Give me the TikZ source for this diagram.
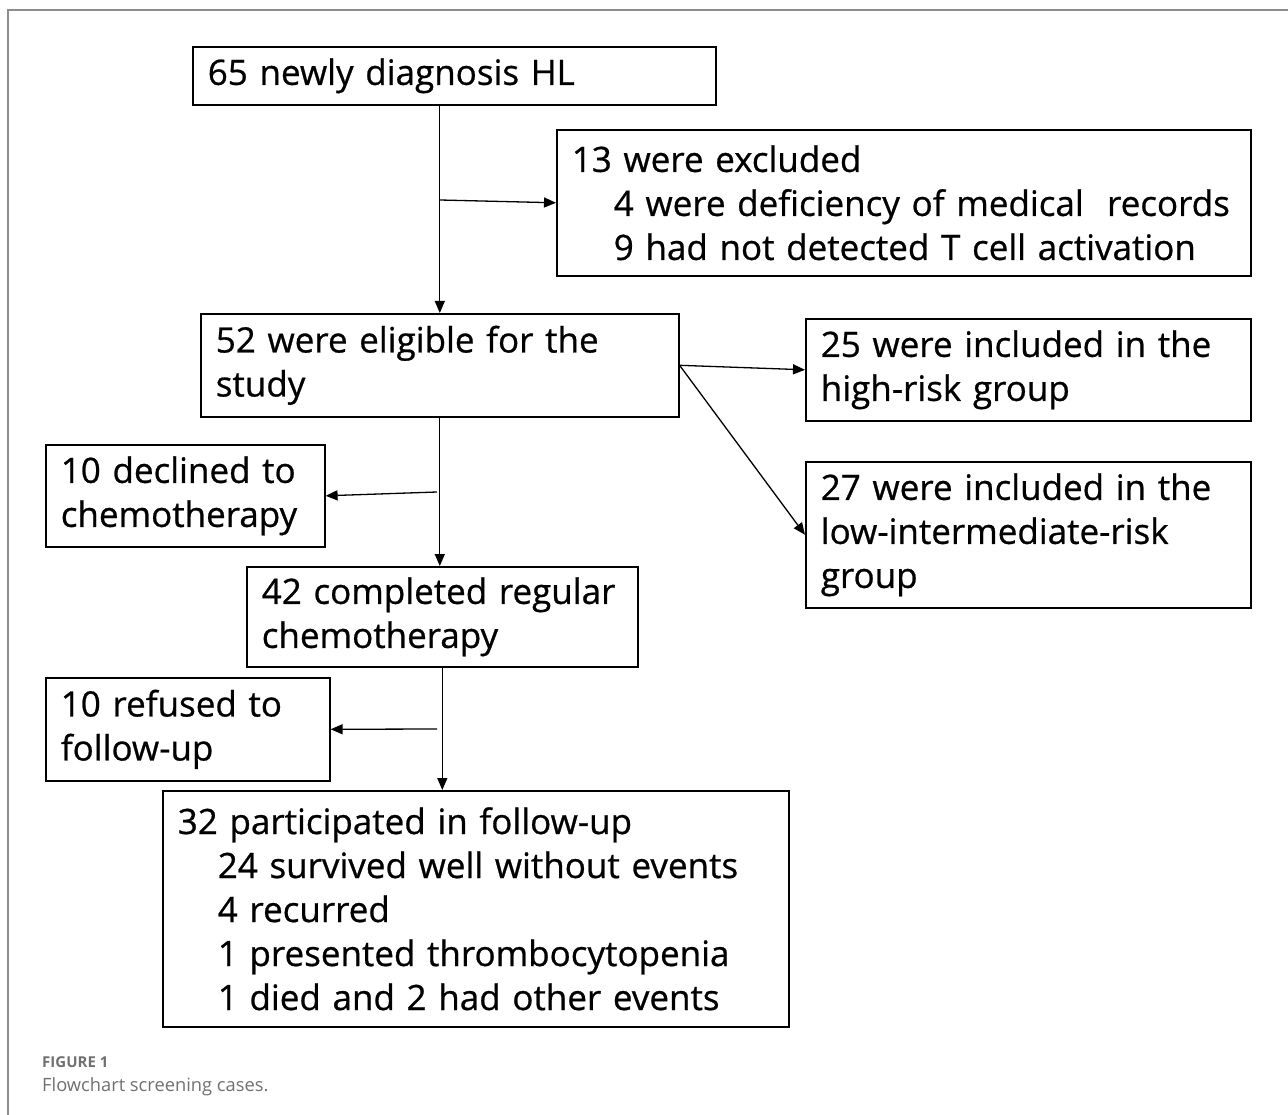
\documentclass[tikz,border=0pt]{standalone}
\usepackage{fontspec}
\setmainfont{Open Sans}
\newfontfamily\flowfont{Open Sans}[FakeBold=0.7]
\usepackage{xcolor}
\usepackage{tikz}
\usetikzlibrary{arrows.meta}
\tikzset{every picture/.append style={font=\flowfont\fontsize{35}{44}\selectfont}}
\definecolor{capgray}{HTML}{707070}
\tikzset{
  flowbox/.style={draw,line width=1.6pt,anchor=north west,align=left,inner xsep=15pt,inner ysep=0pt},
  flowarrow/.style={line width=1.3pt,-{Triangle[length=12pt,width=10pt]}}
}

\begin{document}
\begin{tikzpicture}[x=1pt,y=-1pt]
    \useasboundingbox (0,0) rectangle (1288,1115);
    \draw[capgray!80,line width=1.5pt] (8,1115) -- (8,10) -- (1288,10);
    \node[flowbox,text width=493pt,minimum height=58pt] (diag) at (192,46) {65 newly diagnosis HL};
    \node[flowbox,text width=664pt,minimum height=146pt] (excl) at (556,129) {13 were excluded\\
      \hspace*{42pt}4 were deficiency of medical~ records\\
      \hspace*{42pt}9 had not detected T cell activation};
    \node[flowbox,text width=448pt,minimum height=103pt] (elig) at (200,313) {52 were eligible for the\\study};
    \node[flowbox,text width=415pt,minimum height=102pt] (high) at (805,318) {25 were included in the\\high-risk group};
    \node[flowbox,text width=415pt,minimum height=146pt] (low) at (805,461) {27 were included in the\\low-intermediate-risk\\group};
    \node[flowbox,text width=249pt,minimum height=102pt] (decl) at (45,444) {10 declined to\\chemotherapy};
    \node[flowbox,text width=361pt,minimum height=100pt] (chemo) at (246,566) {42 completed regular\\chemotherapy};
    \node[flowbox,text width=254pt,minimum height=103pt] (refu) at (45,677) {10 refused to\\follow-up};
    \node[flowbox,text width=596pt,minimum height=236pt] (foll) at (162,790) {32 participated in follow-up\\
      \hspace*{40pt}24 survived well without events\\
      \hspace*{40pt}4 recurred\\
      \hspace*{40pt}1 presented thrombocytopenia\\
      \hspace*{40pt}1 died and 2 had other events};
    \coordinate (br1) at (440,200);
    \coordinate (br2) at (437,492);
    \coordinate (br3) at (437,729);
    \draw[flowarrow] (diag.south -| elig.north) -- (elig.north);
    \draw[flowarrow] (br1) -- (excl.west);
    \draw[flowarrow] (elig.east) -- (high.west);
    \draw[flowarrow] (elig.east) -- (low.west);
    \draw[flowarrow] (elig.south) -- (elig.south |- chemo.north);
    \draw[flowarrow] (br2) -- (decl.east);
    \draw[flowarrow] (chemo.south) -- (chemo.south |- foll.north);
    \draw[flowarrow] (br3) -- (refu.east);
    \node[anchor=base west,inner sep=0pt,text=capgray,font=\rmfamily\fontsize{15}{18}\selectfont\bfseries] (fig) at (42,1067) {FIGURE 1};
    \node[anchor=base west,inner sep=0pt,text=capgray,font=\rmfamily\fontsize{18.3}{22}\selectfont] (cap) at (42,1091) {Flowchart screening cases.};
  \end{tikzpicture}
\end{document}
